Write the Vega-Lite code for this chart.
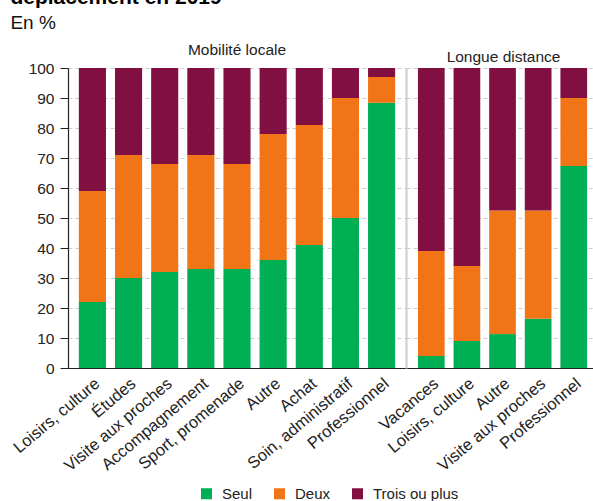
{
  "$schema": "https://vega.github.io/schema/vega-lite/v6.json",
  "padding": {"left": 10, "top": -14, "right": 0, "bottom": 0},
  "background": "white",
  "bounds": "flush",
  "title": {
    "text": "déplacement en 2019",
    "subtitle": "En %",
    "anchor": "start",
    "frame": "bounds",
    "font": "Liberation Sans",
    "fontSize": 21,
    "fontWeight": "bold",
    "color": "#000000",
    "subtitleFont": "Liberation Sans",
    "subtitleFontSize": 19,
    "subtitleColor": "#111111",
    "subtitlePadding": 6,
    "offset": 10
  },
  "datasets": {
    "modes": [
      {"mode": "Seul", "rang": 1},
      {"mode": "Deux", "rang": 2},
      {"mode": "Trois ou plus", "rang": 3}
    ],
    "d": [
      {"zone": "Mobilité locale", "motif": "Loisirs, culture", "mode": "Seul", "pct": 22},
      {"zone": "Mobilité locale", "motif": "Loisirs, culture", "mode": "Deux", "pct": 37},
      {"zone": "Mobilité locale", "motif": "Loisirs, culture", "mode": "Trois ou plus", "pct": 41},
      {"zone": "Mobilité locale", "motif": "Études", "mode": "Seul", "pct": 30},
      {"zone": "Mobilité locale", "motif": "Études", "mode": "Deux", "pct": 41},
      {"zone": "Mobilité locale", "motif": "Études", "mode": "Trois ou plus", "pct": 29},
      {"zone": "Mobilité locale", "motif": "Visite aux proches", "mode": "Seul", "pct": 32},
      {"zone": "Mobilité locale", "motif": "Visite aux proches", "mode": "Deux", "pct": 36},
      {"zone": "Mobilité locale", "motif": "Visite aux proches", "mode": "Trois ou plus", "pct": 32},
      {"zone": "Mobilité locale", "motif": "Accompagnement", "mode": "Seul", "pct": 33},
      {"zone": "Mobilité locale", "motif": "Accompagnement", "mode": "Deux", "pct": 38},
      {"zone": "Mobilité locale", "motif": "Accompagnement", "mode": "Trois ou plus", "pct": 29},
      {"zone": "Mobilité locale", "motif": "Sport, promenade", "mode": "Seul", "pct": 33},
      {"zone": "Mobilité locale", "motif": "Sport, promenade", "mode": "Deux", "pct": 35},
      {"zone": "Mobilité locale", "motif": "Sport, promenade", "mode": "Trois ou plus", "pct": 32},
      {"zone": "Mobilité locale", "motif": "Autre", "mode": "Seul", "pct": 36},
      {"zone": "Mobilité locale", "motif": "Autre", "mode": "Deux", "pct": 42},
      {"zone": "Mobilité locale", "motif": "Autre", "mode": "Trois ou plus", "pct": 22},
      {"zone": "Mobilité locale", "motif": "Achat", "mode": "Seul", "pct": 41},
      {"zone": "Mobilité locale", "motif": "Achat", "mode": "Deux", "pct": 40},
      {"zone": "Mobilité locale", "motif": "Achat", "mode": "Trois ou plus", "pct": 19},
      {"zone": "Mobilité locale", "motif": "Soin, administratif", "mode": "Seul", "pct": 50},
      {"zone": "Mobilité locale", "motif": "Soin, administratif", "mode": "Deux", "pct": 40},
      {"zone": "Mobilité locale", "motif": "Soin, administratif", "mode": "Trois ou plus", "pct": 10},
      {"zone": "Mobilité locale", "motif": "Professionnel", "mode": "Seul", "pct": 88.4},
      {"zone": "Mobilité locale", "motif": "Professionnel", "mode": "Deux", "pct": 8.6},
      {"zone": "Mobilité locale", "motif": "Professionnel", "mode": "Trois ou plus", "pct": 3},
      {"zone": "Longue distance", "motif": "Vacances", "mode": "Seul", "pct": 4},
      {"zone": "Longue distance", "motif": "Vacances", "mode": "Deux", "pct": 35},
      {"zone": "Longue distance", "motif": "Vacances", "mode": "Trois ou plus", "pct": 61},
      {"zone": "Longue distance", "motif": "Loisirs, culture", "mode": "Seul", "pct": 9},
      {"zone": "Longue distance", "motif": "Loisirs, culture", "mode": "Deux", "pct": 25},
      {"zone": "Longue distance", "motif": "Loisirs, culture", "mode": "Trois ou plus", "pct": 66},
      {"zone": "Longue distance", "motif": "Autre", "mode": "Seul", "pct": 11.3},
      {"zone": "Longue distance", "motif": "Autre", "mode": "Deux", "pct": 41.2},
      {"zone": "Longue distance", "motif": "Autre", "mode": "Trois ou plus", "pct": 47.5},
      {"zone": "Longue distance", "motif": "Visite aux proches", "mode": "Seul", "pct": 16.4},
      {"zone": "Longue distance", "motif": "Visite aux proches", "mode": "Deux", "pct": 36.1},
      {"zone": "Longue distance", "motif": "Visite aux proches", "mode": "Trois ou plus", "pct": 47.5},
      {"zone": "Longue distance", "motif": "Professionnel", "mode": "Seul", "pct": 67.3},
      {"zone": "Longue distance", "motif": "Professionnel", "mode": "Deux", "pct": 22.7},
      {"zone": "Longue distance", "motif": "Professionnel", "mode": "Trois ou plus", "pct": 10}
    ]
  },
  "spacing": 0,
  "resolve": {"scale": {"color": "shared", "y": "shared"}},
  "hconcat": [
    {
      "data": {"name": "d"},
      "transform": [
        {"filter": "datum.zone == 'Mobilité locale'"},
        {"lookup": "mode", "from": {"data": {"name": "modes"}, "key": "mode", "fields": ["rang"]}}
      ],
      "width": 338,
      "height": 300,
      "title": {"text": "Mobilité locale", "anchor": "middle", "fontSize": 15.5, "fontWeight": "normal", "font": "Liberation Sans", "color": "#222222", "offset": 3},
      "mark": {"type": "bar"},
      "encoding": {
        "x": {
          "field": "motif", "type": "nominal", "sort": null, "title": null,
          "scale": {"paddingInner": 0.25, "paddingOuter": 0.3},
          "axis": {"labelAngle": -40, "ticks": false, "domainColor": "#222222", "labelFontSize": 16.5, "labelFont": "Liberation Sans", "labelColor": "#222222", "labelPadding": 7}
        },
        "y": {
          "field": "pct", "type": "quantitative", "stack": "zero", "title": null,
          "scale": {"domain": [0, 100], "nice": false},
          "axis": {"values": [0, 10, 20, 30, 40, 50, 60, 70, 80, 90, 100], "tickSize": 8, "tickColor": "#222222", "domainColor": "#222222", "labelFontSize": 15.5, "labelFont": "Liberation Sans", "labelColor": "#222222", "labelPadding": 6, "grid": true, "gridColor": "#cccccc", "gridDash": [4, 3]}
        },
        "order": {"field": "rang", "type": "quantitative"},
        "color": {
          "field": "mode", "type": "nominal", "sort": ["Seul", "Deux", "Trois ou plus"],
          "scale": {"domain": ["Seul", "Deux", "Trois ou plus"], "range": ["#00ae54", "#f17516", "#820f42"]},
          "legend": {"title": null, "orient": "none", "legendX": 131, "legendY": 418, "direction": "horizontal", "symbolType": "square", "symbolSize": 121, "symbolStrokeWidth": 0, "labelFontSize": 15, "labelFont": "Liberation Sans", "labelColor": "#222222", "labelOffset": 8, "columnPadding": 19}
        }
      }
    },
    {
      "data": {"name": "d"},
      "transform": [
        {"filter": "datum.zone == 'Longue distance'"},
        {"lookup": "mode", "from": {"data": {"name": "modes"}, "key": "mode", "fields": ["rang"]}}
      ],
      "width": 187,
      "height": 300,
      "title": {"text": "Longue distance", "anchor": "middle", "dx": 4, "fontSize": 15.5, "fontWeight": "normal", "font": "Liberation Sans", "color": "#222222", "offset": 3},
      "mark": {"type": "bar"},
      "encoding": {
        "x": {
          "field": "motif", "type": "nominal", "sort": null, "title": null,
          "scale": {"paddingInner": 0.25, "paddingOuter": 0.25, "align": 0.67},
          "axis": {"labelAngle": -40, "ticks": false, "domainColor": "#222222", "labelFontSize": 16.5, "labelFont": "Liberation Sans", "labelColor": "#222222", "labelPadding": 7}
        },
        "y": {
          "field": "pct", "type": "quantitative", "stack": "zero", "title": null,
          "scale": {"domain": [0, 100], "nice": false},
          "axis": {"values": [0, 10, 20, 30, 40, 50, 60, 70, 80, 90, 100], "labels": false, "ticks": false, "domainColor": "#cccccc", "domainWidth": 2, "grid": true, "gridColor": "#cccccc", "gridDash": [4, 3]}
        },
        "order": {"field": "rang", "type": "quantitative"},
        "color": {
          "field": "mode", "type": "nominal", "sort": ["Seul", "Deux", "Trois ou plus"],
          "scale": {"domain": ["Seul", "Deux", "Trois ou plus"], "range": ["#00ae54", "#f17516", "#820f42"]}
        }
      }
    }
  ],
  "config": {
    "view": {"stroke": null},
    "font": "Liberation Sans",
    "axis": {"domainWidth": 1.2}
  }
}
